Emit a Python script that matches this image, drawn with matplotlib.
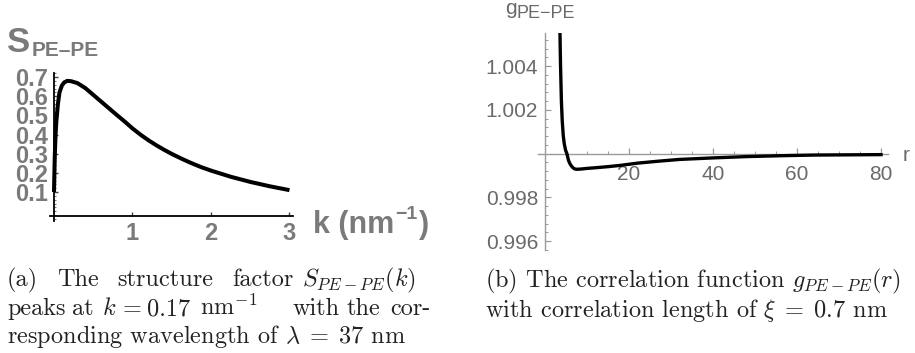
import numpy as np
import matplotlib.pyplot as plt
from matplotlib.ticker import MultipleLocator

plt.rcParams['font.family'] = ['Liberation Sans', 'DejaVu Sans']
plt.rcParams['mathtext.fontset'] = 'cm'

# (a) structure factor
k_vals = [0.0, 0.005, 0.01, 0.02, 0.03, 0.05, 0.07, 0.1, 0.13, 0.17, 0.22, 0.3,
          0.4, 0.5, 0.6, 0.7, 0.8, 0.9, 1.0, 1.1, 1.2, 1.3, 1.4, 1.5, 1.625,
          1.75, 1.875, 2.0, 2.25, 2.5, 2.75, 3.0]
S_vals = [0.10, 0.20, 0.29, 0.40, 0.47, 0.56, 0.62, 0.655, 0.672, 0.68, 0.678,
          0.668, 0.642, 0.607, 0.572, 0.537, 0.502, 0.468, 0.432, 0.400, 0.371,
          0.345, 0.321, 0.299, 0.274, 0.251, 0.23, 0.212, 0.18, 0.153, 0.13, 0.11]
s_ticks = [0.1, 0.2, 0.3, 0.4, 0.5, 0.6, 0.7]
k_ticks = [1, 2, 3]

# (b) correlation function
r_vals = [3.4, 3.55, 3.7, 3.9, 4.1, 4.35, 4.6, 4.9, 5.2, 5.6, 6.0, 6.5, 7.0,
          7.5, 8.5, 10, 12, 15, 18, 22, 27, 32, 40, 48, 56, 64, 72, 80]
g_vals = [1.0070, 1.0056, 1.0040, 1.0024, 1.0015, 1.0008, 1.00043, 1.00015,
          1.0, 0.99968, 0.99951, 0.99938, 0.99930, 0.99928, 0.99929, 0.99932,
          0.99935, 0.99940, 0.99946, 0.99956, 0.99965, 0.99973, 0.99980,
          0.99986, 0.99990, 0.99993, 0.99994, 0.99995]
g_ticks = [0.996, 0.998, 1.002, 1.004]
r_ticks = [20, 40, 60, 80]

W, H = 915, 353

def fx(x):
    return x / W

def fy(y):
    return 1 - y / H

fig = plt.figure(figsize=(W / 100, H / 100), dpi=100)

# --- painel (a)
ax1 = fig.add_axes([fx(50), fy(221), (293 - 50) / W, (221 - 73) / H])
ax1.patch.set_alpha(0)
ax1.plot(k_vals, S_vals, color='black', lw=2.9, solid_joinstyle='round',
         solid_capstyle='butt', zorder=3)
ax1.set_xlim(-0.051, 3.045)
ax1.set_ylim(-0.051, 0.721)
for s in ['top', 'right']:
    ax1.spines[s].set_visible(False)
ax1.spines['left'].set_position(('data', 0))
ax1.spines['bottom'].set_position(('data', -0.025))
for s in ['left', 'bottom']:
    ax1.spines[s].set_linewidth(1.3)
ax1.set_xticks(k_ticks)
ax1.set_xticklabels([str(v) for v in k_ticks])
ax1.set_yticks(s_ticks)
ax1.set_yticklabels([f'{v:.1f}' for v in s_ticks])
ax1.yaxis.set_minor_locator(MultipleLocator(0.02))
ax1.tick_params(which='major', direction='in', length=3, width=1, color='#444444',
                labelcolor='#7a7a7a', labelsize=17, pad=4)
ax1.tick_params(which='minor', direction='in', length=1.5, width=0.8, color='#777777')
for lbl in ax1.get_xticklabels() + ax1.get_yticklabels():
    lbl.set_fontweight('bold')

cinza = '#7a7a7a'
fig.text(fx(7), fy(52), 'S', fontsize=25, fontweight='bold', color=cinza,
         va='baseline', ha='left')
fig.text(fx(32), fy(56), 'PE\u2013PE', fontsize=15, fontweight='bold',
         color=cinza, va='baseline', ha='left')

# rotulo do eixo k com expoente em negrito
t_k = fig.text(fx(313), fy(233), 'k (nm', fontsize=22, fontweight='bold',
               color=cinza, va='baseline', ha='left')
t_exp = ax1.annotate('\u22121', xy=(1, 0), xycoords=t_k, xytext=(1, 15),
                     textcoords='offset points', fontsize=14, fontweight='bold',
                     color=cinza, va='baseline', ha='left')
ax1.annotate(')', xy=(1, 0), xycoords=(t_exp, t_k), xytext=(1, 0),
             textcoords='offset points', fontsize=22, fontweight='bold',
             color=cinza, va='bottom', ha='left')

# --- painel (b)
ax2 = fig.add_axes([fx(538), fy(250), (888 - 538) / W, (250 - 33) / H])
ax2.patch.set_alpha(0)
ax2.plot(r_vals, g_vals, color='black', lw=2.4, solid_joinstyle='round', zorder=3)
ax2.set_xlim(-1.67, 81.67)
ax2.set_ylim(0.99559, 1.00551)
for s in ['top', 'right']:
    ax2.spines[s].set_visible(False)
ax2.spines['left'].set_position(('data', 0))
ax2.spines['bottom'].set_position(('data', 1.0))
for s in ['left', 'bottom']:
    ax2.spines[s].set_color('#9a9a9a')
    ax2.spines[s].set_linewidth(1.0)
ax2.set_xticks(r_ticks)
ax2.set_xticklabels([str(v) for v in r_ticks])
ax2.xaxis.set_minor_locator(MultipleLocator(5))
ax2.set_yticks(g_ticks)
ax2.set_yticklabels([f'{v:.3f}' for v in g_ticks])
ax2.yaxis.set_minor_locator(MultipleLocator(0.0004))
ax2.tick_params(which='major', direction='in', length=4, width=0.9, color='#9a9a9a',
                labelcolor='#6a6a6a', labelsize=15, pad=5)
ax2.tick_params(axis='x', which='major', pad=8)
ax2.tick_params(which='minor', direction='in', length=2.2, width=0.7, color='#9a9a9a')

fig.text(fx(505), fy(14), 'g', fontsize=15, color='#6a6a6a', va='baseline', ha='left')
fig.text(fx(517), fy(18), 'PE\u2212PE', fontsize=13, color='#6a6a6a',
         va='baseline', ha='left')
fig.text(fx(903), fy(161), 'r', fontsize=15, color='#6a6a6a', va='baseline', ha='left')

# --- legendas
cap = dict(fontfamily='cmr10', fontsize=17.5, va='baseline', ha='left', color='#222222')
linha1 = [('(a)', 7), ('The', 57), ('structure', 117), ('factor', 232),
          (r'$S_{PE-PE}(k)$', 302)]
linha2 = [('peaks', 7), ('at', 72), (r'$k$', 102), ('=', 123), ('0.17', 147),
          (r'nm$^{-1}$', 200), ('with', 293), ('the', 347), ('cor-', 390)]
for txt, x in linha1:
    fig.text(fx(x), fy(286), txt, **cap)
for txt, x in linha2:
    fig.text(fx(x), fy(315), txt, **cap)
fig.text(fx(7), fy(343), r'responding wavelength of $\lambda\;=\;37$ nm', **cap)

fig.text(fx(485), fy(287), r'(b) The correlation function $g_{PE-PE}(r)$', **cap)
fig.text(fx(485), fy(317), r'with correlation length of $\xi\;=\;0.7$ nm', **cap)

fig.savefig('out.png', dpi=100)
